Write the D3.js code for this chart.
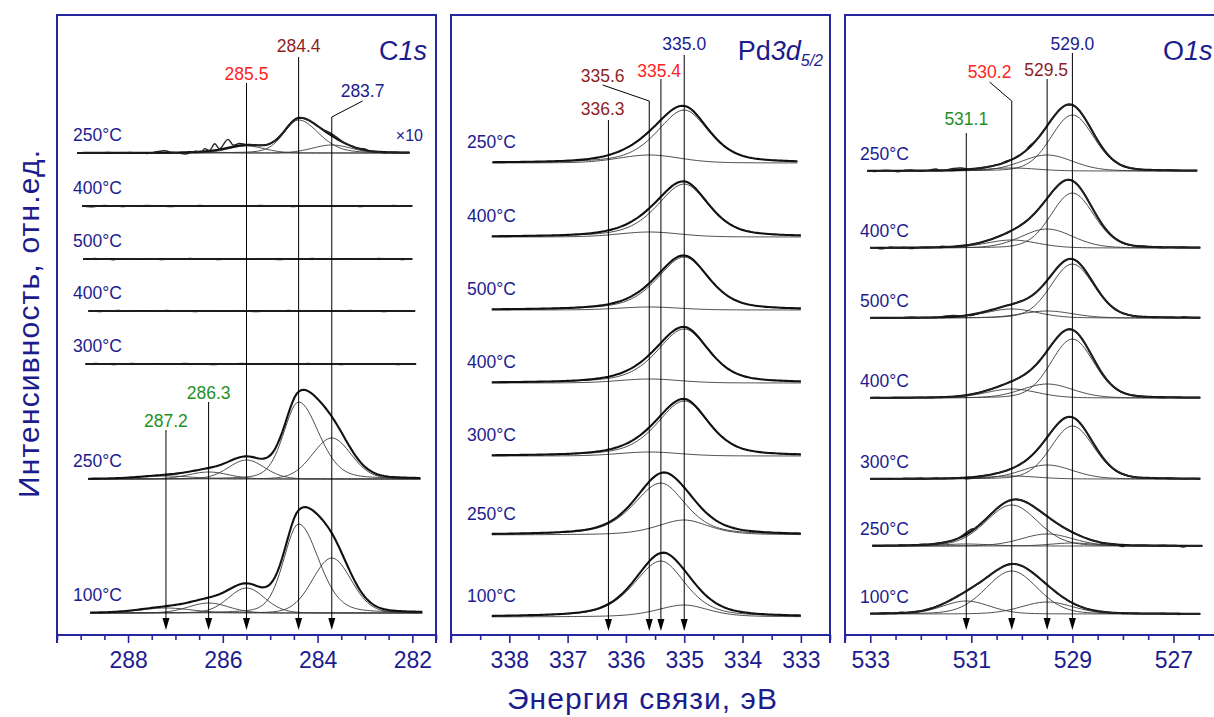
<!DOCTYPE html>
<html>
<head>
<meta charset="utf-8">
<script src="https://cdn.jsdelivr.net/npm/d3@7"></script>
<style>
  body { margin: 0; background: #fff; }
  svg { display: block; font-family: "Liberation Sans", Arial, sans-serif; }
</style>
</head>
<body>
<div id="chart"></div>
<script>
// ---- data ----
// peak positions (eV), line widths [hwhm high-BE side, hwhm low-BE side, lorentz share]
const c1sPeaks = [287.2, 286.3, 285.5, 284.4, 283.7];
const c1sShapes = [[0.65, 0.65, 0.1], [0.5, 0.5, 0.1], [0.45, 0.45, 0.1], [0.37, 0.5, 0.25], [0.48, 0.48, 0.1]];
const c1sTemps = ['250°C', '400°C', '500°C', '400°C', '300°C', '250°C', '100°C'];
const c1sHeights = [
  [0, 0.8, 7, 33, 8],
  [0, 0, 0, 0, 0],
  [0, 0, 0, 0, 0],
  [0, 0, 0, 0, 0],
  [0, 0, 0, 0, 0],
  [3, 7, 19, 77, 41],
  [5, 10, 25, 89, 55]
];
const c1sRanges = [[289.07, 282.06], [288.97, 282.0], [288.95, 282.0], [288.84, 281.94], [288.9, 281.92], [288.84, 281.83], [288.8, 281.79]];
const c1sNoise = [
  [[288.4, 0.5], [288.2, -0.5], [287.95, 0.4], [287.6, -0.6], [287.4, 1], [287.22, 2], [287.1, 0.3], [286.95, -0.4], [286.78, -1.7],
   [286.6, 0.6], [286.45, -0.3], [286.38, 2.7], [286.28, 0.5], [286.17, 6.5], [286.07, 0.8], [285.89, 8.5], [285.78, 1.5], [285.65, 2],
   [283.75, 2], [283.6, 1.5], [283.2, -0.5], [283.0, 1], [282.9, -0.5], [282.6, -0.8]],
  [[288.8, -0.8], [288.5, 0.5], [288.1, -0.6], [287.6, 0.5], [287.1, -0.5], [286.5, 0.6], [285.9, -0.4], [285.2, 0.5], [284.5, -0.6], [283.8, 0.4], [283.1, -0.5], [282.4, 0.5]],
  [[288.7, 0.6], [288.3, -0.7], [287.8, 0.4], [287.3, -0.5], [286.7, 0.5], [286.1, -0.6], [285.4, 0.4], [284.8, -0.5], [284.1, 0.6], [283.4, -0.4], [282.7, 0.5], [282.2, -0.5]],
  [[288.6, -0.5], [288.2, 0.6], [287.7, -0.4], [287.2, 0.5], [286.6, -0.6], [286.0, 0.4], [285.3, -0.5], [284.6, 0.5], [283.9, -0.4], [283.3, 0.6], [282.6, -0.5]],
  [[288.7, 0.5], [288.3, -0.6], [287.9, 0.6], [287.4, -0.4], [286.8, 0.5], [286.2, -0.5], [285.6, 0.6], [284.9, -0.4], [284.2, 0.5], [283.5, -0.6], [282.8, 0.4], [282.3, -0.5]],
  [],
  []
];

const pdPeaks = [336.3, 335.6, 335.4, 335.0];
const pdShapes = [[0.6, 0.6, 0.3], [0.62, 0.62, 0.2], [0.55, 0.5, 0.5], [0.55, 0.5, 0.5]];
const pdTemps = ['250°C', '400°C', '500°C', '400°C', '300°C', '250°C', '100°C'];
const pdHeights = [
  [0, 8, 0, 53],
  [0, 5, 0, 53],
  [0, 3, 0, 53],
  [0, 4, 0, 54],
  [0, 4, 0, 55],
  [0, 0, 52, 15],
  [0, 0, 56, 12]
];
const pdRanges = [[338.29, 333.06], [338.3, 333.0], [338.3, 333.0], [338.3, 333.0], [338.3, 333.0], [338.3, 333.0], [338.3, 333.0]];
const pdNoise = [[], [], [], [], [], [], []];

const o1sPeaks = [531.1, 530.2, 529.5, 529.0];
const o1sShapes = [[0.55, 0.55, 0.15], [0.6, 0.6, 0.15], [0.6, 0.6, 0.15], [0.5, 0.5, 0.15]];
const o1sTemps = ['250°C', '400°C', '500°C', '400°C', '300°C', '250°C', '100°C'];
const o1sHeights = [
  [0, 3, 16, 56],
  [0, 8, 19, 55],
  [0, 9, 7, 54],
  [0, 9, 14, 59],
  [0, 3, 14, 53],
  [2, 41, 12, 3],
  [13, 43, 12, 0]
];
const o1sRanges = [[533.06, 526.53], [533.0, 526.47], [533.0, 526.47], [533.0, 526.47], [533.0, 526.47], [532.96, 526.43], [533.0, 526.47]];
const o1sNoise = [
  [[532.9, -0.8], [532.7, 0.6], [532.45, -1], [532.2, 0.7], [532.0, -0.6], [531.7, 1.5], [531.5, 0.3], [531.35, 1.7], [531.2, 1.8],
   [530.3, 0.8], [529.85, 1.5], [528.0, -0.5], [527.8, 0.4], [527.5, -0.4], [527.1, 0.5]],
  [[532.8, -1.2], [532.6, 0.5], [532.2, -1], [531.9, 0.6], [531.6, 0.8], [531.3, -0.4], [527.6, 0.6], [527.2, -0.5], [526.8, 0.4]],
  [[532.7, -0.5], [532.2, 0.4], [531.5, 1.2], [531.35, 1.3], [531.0, -1], [527.7, -0.5], [527.4, 0.5], [526.8, 0.7]],
  [[532.9, 0.4], [532.5, -0.5], [532.0, 0.4], [531.4, -0.4], [527.7, 0.5], [527.2, -0.5]],
  [[532.6, -0.6], [532.3, 0.6], [532.0, 0.5], [531.7, 0.6], [531.1, -1.2], [530.9, -0.7], [527.7, -0.5], [527.4, 0.5], [527.1, 0.4], [526.8, -0.4]],
  [[532.8, -0.7], [532.4, 0.4], [531.95, 0.5], [531.15, 1.5], [531.0, 2], [528.4, -0.6], [528.0, -1.6], [527.8, -0.5], [527.6, 0.5], [527.2, 0.4], [526.8, -1.4]],
  [[532.7, 0.5], [532.4, 0.8], [531.8, 0.4], [530.2, 0.5], [528.0, 0.5], [527.2, 0.4], [526.9, -0.8]]
];

// tick labels
const c1sMajor = [288, 286, 284, 282];
const pdMajor = [338, 337, 336, 335, 334, 333];
const o1sMajor = [533, 531, 529, 527];

// ---- layout ----
const frameTop = 15, axisY = 635;
const c1sDomain = [289.5, 281.5], pdDomain = [339, 332.5], o1sDomain = [533.5, 526];
const c1sOffsets = [482, 429, 376, 324, 271, 156, 22];
const pdOffsets = [472, 398, 325, 252, 179, 100, 18];
const o1sOffsets = [464, 387, 317, 237, 156, 89, 21];
const c1sArrowTop = [430, 402, 83, 57, 117];
const pdArrowTop = [120, 101, 79, 55];
const o1sArrowTop = [133, 101, 79, 53];
// label anchor: [energy of text centre, text baseline y]
const c1sLabelAt = [[287.2, 427], [286.3, 399], [285.5, 80], [284.4, 52], [283.05, 97]];
const pdLabelAt = [[336.4, 115], [336.4, 82], [335.43, 77], [335.0, 50]];
const o1sLabelAt = [[531.1, 125], [530.64, 78], [529.52, 76], [529.0, 50]];
const c1sLeaders = [null, null, null, null, [283.05, 101]];
const pdLeaders = [null, [336.4, 85], null, null];
const o1sLeaders = [null, [530.64, 82], null, null];

const green = '#1f8f1f', red = '#ff2222', darkRed = '#8e1f1f', navy = '#1c1c8e', frameColor = '#2626a0';
const c1sLabelColors = [green, green, red, darkRed, navy];
const pdLabelColors = [darkRed, darkRed, red, navy];
const o1sLabelColors = [green, red, darkRed, navy];

const panels = [
  { domain: c1sDomain, frame: [57, 436], peaks: c1sPeaks, shapes: c1sShapes, heights: c1sHeights, ranges: c1sRanges,
    noise: c1sNoise, temps: c1sTemps, offsets: c1sOffsets, tempX: 73, tempDy: -12, major: c1sMajor,
    arrowTop: c1sArrowTop, labels: c1sLabelAt, leaders: c1sLeaders, colors: c1sLabelColors, tip: 630 },
  { domain: pdDomain, frame: [451, 830], peaks: pdPeaks, shapes: pdShapes, heights: pdHeights, ranges: pdRanges,
    noise: pdNoise, temps: pdTemps, offsets: pdOffsets, tempX: 467, tempDy: -15, major: pdMajor,
    arrowTop: pdArrowTop, labels: pdLabelAt, leaders: pdLeaders, colors: pdLabelColors, tip: 631 },
  { domain: o1sDomain, frame: [845, 1224], peaks: o1sPeaks, shapes: o1sShapes, heights: o1sHeights, ranges: o1sRanges,
    noise: o1sNoise, temps: o1sTemps, offsets: o1sOffsets, tempX: 860, tempDy: -11, major: o1sMajor,
    arrowTop: o1sArrowTop, labels: o1sLabelAt, leaders: o1sLeaders, colors: o1sLabelColors, tip: 630 }
];

const svg = d3.select('#chart')
  .append('svg')
  .attr('width', 1214)
  .attr('height', 717);

svg.append('rect').attr('width', 1214).attr('height', 717).attr('fill', '#fff');

const y = d3.scaleLinear().domain([0, 620]).range([axisY, frameTop]);

// mixed gaussian/lorentzian line, different width on each side
function lineShape(e, c, h, shape) {
  const d = e - c;
  const w = d > 0 ? shape[0] : shape[1];
  const t = (d / w) * (d / w);
  return h * ((1 - shape[2]) * Math.exp(-Math.LN2 * t) + shape[2] / (1 + t));
}

panels.forEach(p => {
  const x = d3.scaleLinear().domain(p.domain).range(p.frame);
  const g = svg.append('g');

  // spectra
  p.heights.forEach((hs, s) => {
    const base = p.offsets[s];
    const [e0, e1] = p.ranges[s];
    const grid = d3.range(e0, e1, -0.05).concat([e1]);
    const env = e => d3.sum(hs, (h, k) => h > 0 ? lineShape(e, p.peaks[k], h, p.shapes[k]) : 0);
    const line = d3.line().x(d => x(d[0])).y(d => y(base + d[1]));

    hs.forEach((h, k) => {
      if (h <= 0) return;
      g.append('path')
        .attr('d', line(grid.map(e => [e, lineShape(e, p.peaks[k], h, p.shapes[k])])))
        .attr('fill', 'none')
        .attr('stroke', '#3a3a3a')
        .attr('stroke-width', 0.9);
    });

    g.append('path')
      .attr('d', line(grid.map(e => [e, env(e)])))
      .attr('fill', 'none')
      .attr('stroke', '#111')
      .attr('stroke-width', 2.1);

    const noise = p.noise[s];
    if (noise.length) {
      const coarse = d3.range(e0, e1, -0.12).concat([e1])
        .filter(e => !noise.some(n => Math.abs(n[0] - e) < 0.07));
      const pts = coarse.map(e => [e, env(e)]);
      noise.forEach(([e, o]) => pts.push([e, env(e) + o]));
      pts.sort((a, b) => b[0] - a[0]);
      g.append('path')
        .attr('d', line.curve(d3.curveCatmullRom.alpha(0.5))(pts))
        .attr('fill', 'none')
        .attr('stroke', '#222')
        .attr('stroke-width', 1.4);
    }

    g.append('text')
      .attr('x', p.tempX)
      .attr('y', y(base) + p.tempDy)
      .attr('font-size', '17.5px')
      .attr('fill', navy)
      .text(p.temps[s]);
  });

  // arrows and peak labels
  p.peaks.forEach((e, k) => {
    const xe = x(e);
    g.append('line')
      .attr('x1', xe).attr('x2', xe)
      .attr('y1', p.arrowTop[k]).attr('y2', p.tip - 10)
      .attr('stroke', '#000').attr('stroke-width', 1);
    g.append('path')
      .attr('d', `M${xe - 3.5},${p.tip - 12}L${xe + 3.5},${p.tip - 12}L${xe},${p.tip}Z`)
      .attr('fill', '#000');
    const lead = p.leaders[k];
    if (lead) {
      g.append('line')
        .attr('x1', x(lead[0])).attr('y1', lead[1])
        .attr('x2', xe).attr('y2', p.arrowTop[k])
        .attr('stroke', '#000').attr('stroke-width', 1);
    }
    g.append('text')
      .attr('x', x(p.labels[k][0]))
      .attr('y', p.labels[k][1])
      .attr('text-anchor', 'middle')
      .attr('font-size', '17.5px')
      .attr('fill', p.colors[k])
      .text(e.toFixed(1));
  });

  // frame
  g.append('rect')
    .attr('x', p.frame[0]).attr('y', frameTop)
    .attr('width', p.frame[1] - p.frame[0]).attr('height', axisY - frameTop)
    .attr('fill', 'none')
    .attr('stroke', frameColor)
    .attr('stroke-width', 2);
  p.frame.forEach(fx => {
    g.append('line')
      .attr('x1', fx).attr('x2', fx).attr('y1', axisY).attr('y2', axisY + 8)
      .attr('stroke', frameColor).attr('stroke-width', 2);
  });

  // axis ticks
  const minor = d3.range(p.domain[0], p.domain[1] - 0.01, -0.5).filter(v => !p.major.includes(v));
  const minorAxis = g.append('g')
    .attr('transform', `translate(0,${axisY})`)
    .call(d3.axisBottom(x).tickValues(minor).tickSize(5).tickFormat(''));
  const majorAxis = g.append('g')
    .attr('transform', `translate(0,${axisY})`)
    .call(d3.axisBottom(x).tickValues(p.major).tickSize(8).tickPadding(9).tickFormat(d3.format('d')));
  [minorAxis, majorAxis].forEach(a => {
    a.select('.domain').remove();
    a.selectAll('line').attr('stroke', frameColor).attr('stroke-width', 1.6);
    a.selectAll('text')
      .attr('fill', navy)
      .attr('font-size', '23px')
      .attr('font-family', '"Liberation Sans", Arial, sans-serif');
  });
});

// panel titles
const t1 = svg.append('text').attr('x', 427).attr('y', 60).attr('text-anchor', 'end')
  .attr('font-size', '27px').attr('fill', navy);
t1.append('tspan').text('C');
t1.append('tspan').attr('font-style', 'italic').text('1s');

const t2 = svg.append('text').attr('x', 823).attr('y', 60).attr('text-anchor', 'end')
  .attr('font-size', '27px').attr('fill', navy);
t2.append('tspan').text('Pd');
t2.append('tspan').attr('font-style', 'italic').text('3d');
t2.append('tspan').attr('font-style', 'italic').attr('font-size', '16px').attr('dy', 6).text('5/2');

const t3 = svg.append('text').attr('x', 1163).attr('y', 60)
  .attr('font-size', '27px').attr('fill', navy);
t3.append('tspan').text('O');
t3.append('tspan').attr('font-style', 'italic').text('1s');

// ×10 note on the top C1s spectrum
svg.append('text')
  .attr('x', 423).attr('y', 141)
  .attr('text-anchor', 'end')
  .attr('font-size', '16px')
  .attr('fill', navy)
  .text('×10');

// axis titles
svg.append('text')
  .attr('x', 642).attr('y', 709)
  .attr('text-anchor', 'middle')
  .attr('font-size', '30px')
  .attr('textLength', 270)
  .attr('lengthAdjust', 'spacing')
  .attr('fill', navy)
  .text('Энергия связи, эВ');

svg.append('text')
  .attr('transform', 'translate(39,324) rotate(-90)')
  .attr('text-anchor', 'middle')
  .attr('font-size', '30px')
  .attr('textLength', 348)
  .attr('lengthAdjust', 'spacing')
  .attr('fill', navy)
  .text('Интенсивность, отн.ед.');
</script>
</body>
</html>
